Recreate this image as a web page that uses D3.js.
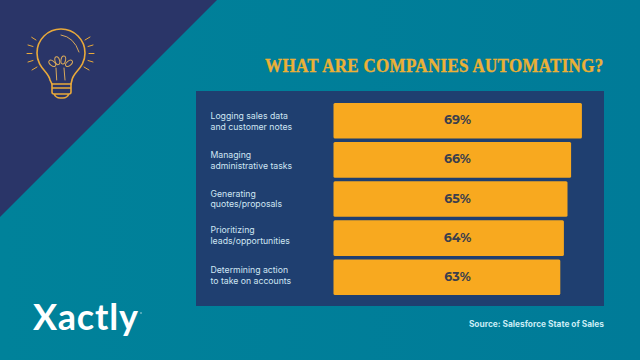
<!DOCTYPE html>
<html><head><meta charset="utf-8">
<script src="https://cdn.jsdelivr.net/npm/d3@7"></script>
<style>html,body{margin:0;padding:0;background:#007d98;overflow:hidden}svg{display:block}</style>
</head><body><svg id="c" width="640" height="360"></svg>
<script>
const categories = [
  ["Logging sales data","and customer notes"],
  ["Managing","administrative tasks"],
  ["Generating","quotes/proposals"],
  ["Prioritizing","leads/opportunities"],
  ["Determining action","to take on accounts"]
];
const values = [69,66,65,64,63];
const titleText = "WHAT ARE COMPANIES AUTOMATING?";
const sourceText = "Source: Salesforce State of Sales";
const logoText = "Xactly";

const labelBaselines = [119,158,196.8,233.2,273.4];
const svg = d3.select("#c");
const defs = svg.append("defs");
const g = defs.append("linearGradient").attr("id","bg").attr("x1",0).attr("y1",0).attr("x2",1).attr("y2",0);
g.append("stop").attr("offset","0").attr("stop-color","#00829a");
g.append("stop").attr("offset","1").attr("stop-color","#007b98");
svg.append("rect").attr("width",640).attr("height",360).attr("fill","url(#bg)");
svg.append("path").attr("d","M0,0H217L0,217Z").attr("fill","#2a3568");

svg.append("rect").attr("x",196).attr("y",91).attr("width",408).attr("height",215).attr("fill","#1f3f70");

const x = d3.scaleLinear().domain([0,100]).range([333.5,693.5]);
const y = d3.scaleBand().domain(d3.range(values.length)).range([101.2,296.8]).paddingInner(0.09).paddingOuter(0.045);

svg.selectAll("rect.bar").data(values).join("rect").attr("class","bar")
  .attr("x",x(0)).attr("y",(d,i)=>y(i)).attr("width",d=>x(d)-x(0)).attr("height",y.bandwidth())
  .attr("rx",1.5).attr("fill","#f8a91f");

svg.selectAll("text.val").data(values).join("text").attr("class","val")
  .attr("x",457.5).attr("y",(d,i)=>y(i)+y.bandwidth()/2+3.6)
  .attr("text-anchor","middle").attr("font-family","Montserrat, Inter, 'Open Sans', sans-serif")
  .attr("font-weight",700).attr("font-size",12.6).attr("fill","#3b3f4c").text(d=>d+"%");

const lab = svg.selectAll("text.lab").data(categories).join("text").attr("class","lab")
  .attr("font-family","Inter, 'Open Sans', sans-serif").attr("font-size",8.7).attr("fill","#cfe6f3");
lab.each(function(d,i){
  d3.select(this).selectAll("tspan").data(d).join("tspan")
    .attr("x",210.5).attr("y",(t,j)=>labelBaselines[i]+j*10.6).text(t=>t);
});

svg.append("text").attr("transform","translate(603.5,71.5) scale(1,1.08)").attr("text-anchor","end")
  .attr("font-family","'Liberation Serif', serif").attr("font-weight",700).attr("font-size",17)
  .attr("letter-spacing",0.3).attr("fill","#ecb035").attr("stroke","#ecb035").attr("stroke-width",0.3).text(titleText);

svg.append("text").attr("x",604).attr("y",327).attr("text-anchor","end")
  .attr("font-family","Inter, 'Open Sans', sans-serif").attr("font-weight",700).attr("font-size",8.35)
  .attr("fill","#c9ecf5").text(sourceText);

svg.append("text").attr("x",33).attr("y",330).attr("font-family","Lato, Inter, sans-serif")
  .attr("font-weight",700).attr("font-size",36).attr("letter-spacing",0.85).attr("fill","#fff").text(logoText);
svg.append("circle").attr("cx",141).attr("cy",313).attr("r",0.8).attr("fill","#fff").attr("opacity",0.7);

const b = svg.append("g").attr("fill","none").attr("stroke","#e9a93a").attr("stroke-width",1.6).attr("stroke-linecap","round");
b.append("path").attr("d","M50,80 C49,72 37,68 37,53 A24,24 0 1 1 85,53 C85,68 73,72 72,80 L71,84 H52 Z");
b.append("path").attr("d","M52,84 V92 Q52,94 54,94 H69 Q71,94 71,92 V84 M52,88 H71 M54,94 Q56,98 60,98 H63 Q67,98 69,94");
const thin = b.append("g").attr("stroke-width",1).attr("stroke","#d9a95a");
thin.append("path").attr("d","M61,35 Q74,37 79,52");
thin.append("path").attr("d","M56.7,80 L56,68 M65,80 L64,68");
[[52.3,63.3,-50],[57.3,60.7,-15],[63.3,60,10],[69,63.3,50]].forEach(e=>{
  thin.append("ellipse").attr("cx",0).attr("cy",0).attr("rx",2.3).attr("ry",4)
    .attr("transform",`translate(${e[0]},${e[1]}) rotate(${e[2]})`);
});
const rays = b.append("g").attr("stroke-width",1);
rays.append("path").attr("d","M31.7,37.3 L36,40 M28,45 L33,46.5 M27,53.5 H32 M28,62 L33,60.5 M32,70 L37,67 M90,37 L85,40 M93,45 L88,46.5 M94,53.5 H89 M93,62 L88,60.5 M89,70 L84,67");
</script></body></html>
